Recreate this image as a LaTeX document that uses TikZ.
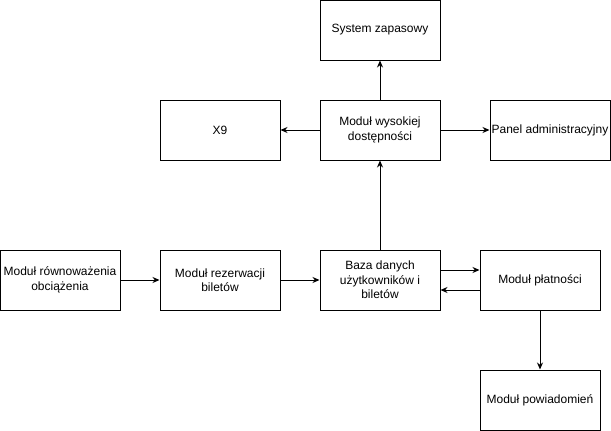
\documentclass[tikz,border=0pt]{standalone}
\usepackage{fontspec}
\setmainfont{Liberation Sans}
\usetikzlibrary{arrows.meta}
\begin{document}
\begin{tikzpicture}[x=1pt,y=-1pt,line width=1pt,
    every node/.style={draw,rectangle,inner sep=0pt,align=center,
      minimum width=120pt,minimum height=60pt,
      font=\fontsize{12}{14.5}\selectfont},
    link/.style={-{Stealth[length=7pt,width=6pt]}}] %
    \useasboundingbox (0,0) rectangle (611,431);%
    % top part
    \node (sys) at (380,30) {System zapasowy};%
    \node (ha) at (380,130) {Moduł wysokiej\\dostępności};%
    \node (x9) at (220,130) {X9};%
    \node (panel) at (550,130) {Panel administracyjny};%
    % bottom part
    \node (lb) at (60,280) {Moduł równoważenia\\obciążenia};%
    \node (rez) at (220,280) {Moduł rezerwacji\\biletów};%
    \node (baza) at (380,280) {Baza danych\\użytkowników i\\biletów};%
    \node (plat) at (540,280) {Moduł płatności};%
    \node (pow) at (540,400) {Moduł powiadomień};%

      \draw[link] (lb)--(rez);%
      \draw[link] (rez)--(baza);%
      \draw[link] (baza)--(ha);%
      \draw[link] (ha)--(sys);%
      \draw[link] (ha)--(x9);%
      \draw[link] (ha)--(panel);%
      \draw[link] ([yshift=10pt]baza.east)--([yshift=10pt]plat.west);%
      \draw[link] ([yshift=-10pt]plat.west)--([yshift=-10pt]baza.east);%
      \draw[link] (plat)--(pow);%
  \end{tikzpicture}
\end{document}
